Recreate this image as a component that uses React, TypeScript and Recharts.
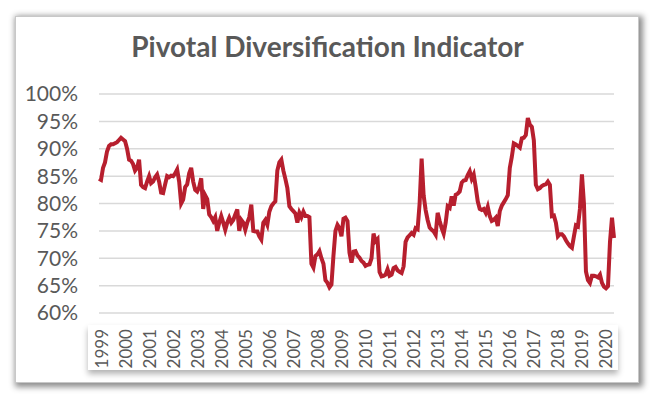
import { LineChart, Line, XAxis, YAxis, CartesianGrid } from 'recharts'

// Monthly indicator readings (%)
const years = ['1999', '2000', '2001', '2002', '2003', '2004', '2005', '2006', '2007', '2008', '2009',
    '2010', '2011', '2012', '2013', '2014', '2015', '2016', '2017', '2018', '2019', '2020']

const v1999 = [84.5, 84.3, 86.5, 87.5, 89.5, 90.5, 90.8, 90.8, 91, 91.2, 91.6, 92]
const v2000 = [91.7, 91.4, 90, 88, 87.8, 87.2, 86, 86.5, 88, 83.4, 83, 82.8]
const v2001 = [84, 85, 83.7, 84, 84.8, 85.3, 84, 82, 81.9, 83.5, 85, 84.8]
const v2002 = [85.1, 85, 85.5, 86.2, 84, 80, 80.7, 83, 83.5, 85.5, 86.5, 84]
const v2003 = [82.5, 82.2, 83, 84.6, 79, 81.5, 80.8, 78, 77.5, 76.8, 77.5, 75]
const v2004 = [76.5, 77.7, 76.5, 75.2, 76.5, 77.4, 76.5, 77, 78, 78.9, 75, 77]
const v2005 = [76.5, 75.2, 76.5, 77.5, 79.8, 75, 74.9, 74.9, 74, 73.4, 76.5, 77]
const v2006 = [76.1, 78.5, 79.5, 80, 80.4, 86, 87.5, 88, 86, 84.5, 82.8, 79.5]
const v2007 = [79, 78.6, 78.2, 76.5, 78.3, 77.5, 78.5, 77.7, 77.7, 77.5, 69, 68.3]
const v2008 = [70.4, 70.7, 71.3, 70, 69, 66, 65.5, 64.7, 65.2, 70.5, 75, 76.1]
const v2009 = [75.5, 74, 77.2, 77.4, 76.8, 71, 69.2, 71.2, 71.3, 70.5, 70.1, 69.5]
const v2010 = [69.2, 68.6, 68.8, 68.9, 70, 74.5, 73.1, 73.5, 67.5, 66.7, 66.8, 67]
const v2011 = [68, 66.8, 67, 68.2, 68.4, 67.8, 67.5, 67.3, 68.5, 73, 73.8, 74.2]
const v2012 = [74.6, 74.3, 75.5, 75.3, 80, 88.2, 81.5, 78.8, 77, 75.6, 75.2, 74.9]
const v2013 = [74.3, 78.3, 76.8, 75.5, 74.5, 76.5, 79.5, 79.2, 81.3, 79.6, 81.6, 81.8]
const v2014 = [82.2, 83.8, 84.2, 84.3, 85.2, 85.9, 84.5, 85.3, 83, 80.4, 79, 78.8]
const v2015 = [79, 78.3, 79.4, 77.7, 76.8, 77, 77.4, 75.9, 78.6, 79.6, 80.2, 80.8]
const v2016 = [81.5, 86.5, 88.5, 91, 90.8, 90.5, 90.2, 91.9, 92, 92.5, 95.6, 94.4]
const v2017 = [94, 91.5, 83.4, 82.6, 82.8, 83.2, 83.4, 83.5, 84, 83.4, 77.7, 77.8]
const v2018 = [76.5, 74, 74.4, 74.4, 74, 73.3, 72.7, 72.2, 71.9, 74, 76, 75.8]
const v2019 = [79, 85.3, 80, 67.6, 66, 65.5, 66.8, 66.8, 66.7, 66.5, 67, 65.5]
const v2020 = [64.8, 64.5, 64.9, 73, 77.4, 73.7]

const yearly = [v1999, v2000, v2001, v2002, v2003, v2004, v2005, v2006, v2007, v2008, v2009,
    v2010, v2011, v2012, v2013, v2014, v2015, v2016, v2017, v2018, v2019, v2020]

const yTicks = [60, 65, 70, 75, 80, 85, 90, 95, 100]

const data = years.flatMap((yr, yi) =>
    yearly[yi].map((value, m) => ({ month: `${yr}-${String(m + 1).padStart(2, '0')}`, value }))
)

function YearTick({ x, y, payload }: any) {
    const tx = x + 2
    return (
        <text
            x={tx}
            y={y}
            transform={`rotate(-90, ${tx}, ${y})`}
            textAnchor="end"
            dominantBaseline="central"
            fill="#595959"
            fontSize={17}
            fontFamily="Lato, sans-serif"
            fontWeight={400}
        >
            {String(payload.value).slice(0, 4)}
        </text>
    )
}

export default function App() {
    return (
        <div style={{ position: 'absolute', left: 0, top: 0, width: 655, height: 397, background: '#fff' }}>
            {/* card frame */}
            <div style={{
                position: 'absolute', left: 15, top: 16, width: 622, height: 365,
                border: '1px solid #c8c8c8', background: '#fff',
                boxShadow: '2px 2px 6px 2px rgba(0,0,0,0.45)',
            }} />
            {/* box behind the year labels */}
            <div style={{
                position: 'absolute', left: 88, top: 325, width: 530, height: 45,
                background: '#fff', boxShadow: '0 4px 6px rgba(0,0,0,0.3)',
            }} />
            <div style={{
                position: 'absolute', left: 0, top: 29, width: 655, textAlign: 'center',
                fontFamily: 'Lato, sans-serif', fontWeight: 700, fontSize: 28, lineHeight: '34px', color: '#595959',
            }}>
                Pivotal Diversification Indicator
            </div>
            <LineChart
                width={655}
                height={397}
                data={data}
                margin={{ top: 94, right: 41, bottom: 24, left: 0 }}
                style={{ position: 'absolute', left: 0, top: 0 }}
            >
                <CartesianGrid vertical={false} stroke="#d9d9d9" strokeWidth={1.5} />
                <XAxis
                    dataKey="month"
                    height={60}
                    interval={11}
                    axisLine={false}
                    tickLine={false}
                    tickSize={0}
                    tickMargin={16}
                    tick={<YearTick />}
                />
                <YAxis
                    width={99}
                    domain={[60, 100]}
                    ticks={yTicks}
                    interval={0}
                    tickFormatter={(v: number) => `${v}%`}
                    axisLine={false}
                    tickLine={false}
                    tickSize={0}
                    tickMargin={21}
                    tick={{ fill: '#595959', fontSize: 21, fontFamily: 'Lato, sans-serif', fontWeight: 400 }}
                />
                <Line
                    type="linear"
                    dataKey="value"
                    stroke="#b71f2e"
                    strokeWidth={4}
                    dot={false}
                    isAnimationActive={false}
                />
            </LineChart>
        </div>
    )
}
